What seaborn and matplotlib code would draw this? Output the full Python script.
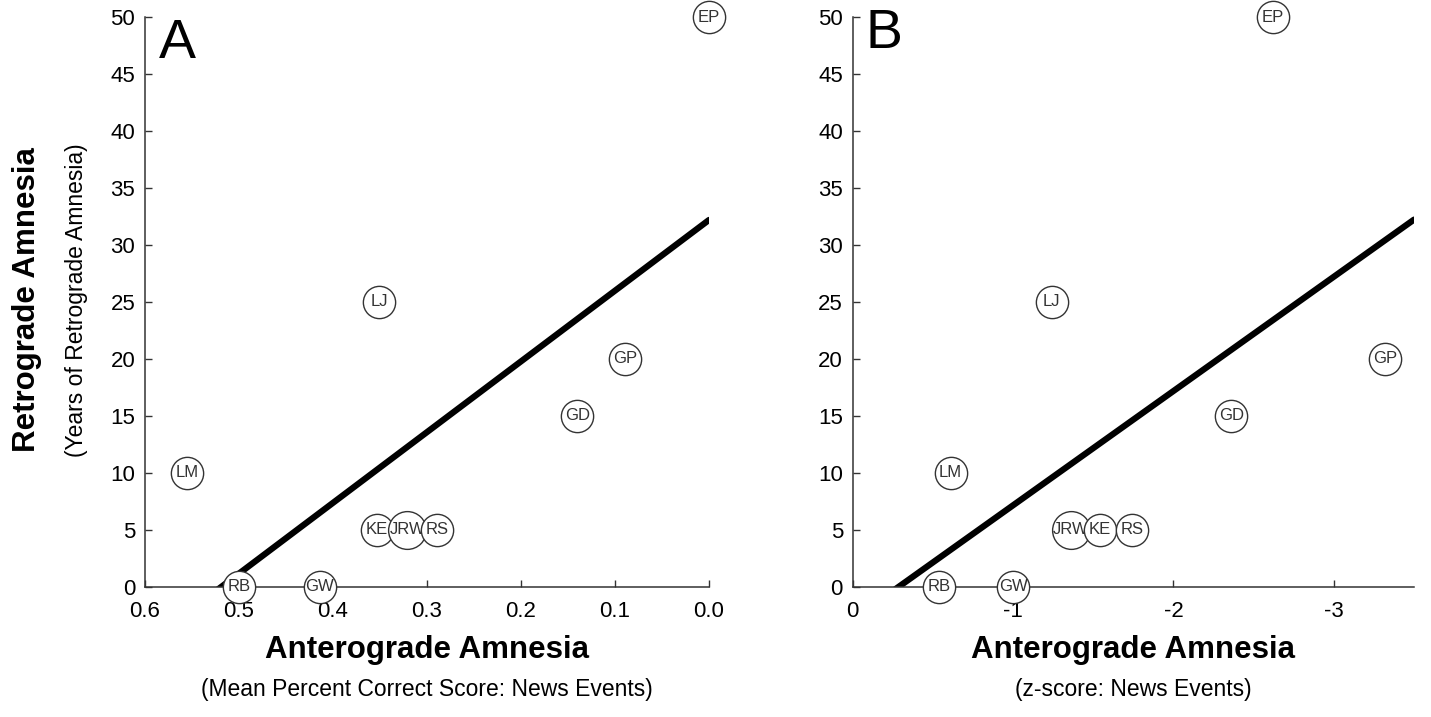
import numpy as np
import pandas as pd
import seaborn as sns
import matplotlib
matplotlib.use('agg')
import matplotlib.pyplot as plt

# patients and their scores
patients = ["EP", "LJ", "GP", "GD", "LM", "KE", "JRW", "RS", "RB", "GW"]
retro_years = [50, 25, 20, 15, 10, 5, 5, 5, 0, 0]
news_pct = [0.0, 0.351, 0.089, 0.140, 0.555, 0.353, 0.321, 0.289, 0.50, 0.414]
news_z = [-2.62, -1.24, -3.32, -2.36, -0.61, -1.54, -1.36, -1.74, -0.54, -1.00]

y_ticks = list(range(0, 51, 5))
pct_ticks = [0.6, 0.5, 0.4, 0.3, 0.2, 0.1, 0.0]
pct_labels = ["0.6", "0.5", "0.4", "0.3", "0.2", "0.1", "0.0"]
z_ticks = [0, -1, -2, -3]
z_labels = ["0", "-1", "-2", "-3"]

sns.set_style("ticks", {"xtick.direction": "in", "ytick.direction": "in",
                        "axes.edgecolor": "#333333", "text.color": "black",
                        "xtick.color": "black", "ytick.color": "black"})
plt.rcParams['font.family'] = ['Liberation Sans', 'DejaVu Sans']
plt.rcParams['axes.unicode_minus'] = False

W, H = 1431, 717
fig = plt.figure(figsize=(W / 100, H / 100), dpi=100)
axA = fig.add_axes([145 / W, 1 - 586.7 / H, 564 / W, 569.4 / H])
axB = fig.add_axes([852.7 / W, 1 - 586.7 / H, 561.3 / W, 569.4 / H])


def draw_panel(ax, xs, xlim, xticks, xlabels):
    df = pd.DataFrame({'x': xs, 'y': retro_years, 'who': patients})
    ax.set_xlim(*xlim)
    ax.set_ylim(0, 50)
    sns.regplot(data=df, x='x', y='y', ax=ax, scatter=False, ci=None,
                truncate=False,
                line_kws=dict(color='black', lw=4.5, solid_capstyle='round',
                              zorder=2))
    # left-to-right on screen, later circles cover earlier ones
    df = df.sort_values('x', ascending=False).reset_index(drop=True)
    for i, row in df.iterrows():
        size = 540 if len(row.who) < 3 else 740
        sns.scatterplot(x=[row.x], y=[row.y], ax=ax, s=size, marker='o',
                        color='white', edgecolor='#333333', linewidth=1.0,
                        clip_on=False, zorder=3 + 2 * i, legend=False)
        ax.text(row.x, row.y, row.who, ha='center', va='center',
                fontsize=12, color='#333333', zorder=4 + 2 * i,
                clip_on=False)
    ax.set_xlim(*xlim)
    ax.set_ylim(0, 50)
    ax.set_xticks(xticks)
    ax.set_xticklabels(xlabels)
    ax.set_yticks(y_ticks)
    ax.tick_params(axis='both', labelsize=16, length=5, width=1,
                   color='#333333', labelcolor='black')
    ax.tick_params(axis='x', pad=10)
    ax.tick_params(axis='y', pad=7)
    ax.set_xlabel('')
    ax.set_ylabel('')
    for side in ['left', 'bottom']:
        ax.spines[side].set_linewidth(1.1)
    sns.despine(ax=ax)


draw_panel(axA, news_pct, (0.6, 0.0), pct_ticks, pct_labels)
draw_panel(axB, news_z, (0, -3.5), z_ticks, z_labels)

# panel letters
fig.text(159 / W, 1 - 58 / H, 'A', fontsize=40, va='baseline', ha='left')
fig.text(865 / W, 1 - 48.3 / H, 'B', fontsize=40, va='baseline', ha='left')

# axis titles
for cx, sub in [(427, '(Mean Percent Correct Score: News Events)'),
                (1133.4, '(z-score: News Events)')]:
    fig.text(cx / W, 1 - 658 / H, 'Anterograde Amnesia', fontsize=22.5,
             fontweight='bold', ha='center', va='baseline')
    fig.text(cx / W, 1 - 696 / H, sub, fontsize=16.5, ha='center',
             va='baseline')

fig.text(35 / W, 1 - 300 / H, 'Retrograde Amnesia', fontsize=22.5,
         fontweight='bold', rotation=90, rotation_mode='anchor',
         ha='center', va='baseline')
fig.text(83.3 / W, 1 - 300 / H, '(Years of Retrograde Amnesia)',
         fontsize=16.5, rotation=90, rotation_mode='anchor',
         ha='center', va='baseline')

fig.savefig('out.png', dpi=100)
